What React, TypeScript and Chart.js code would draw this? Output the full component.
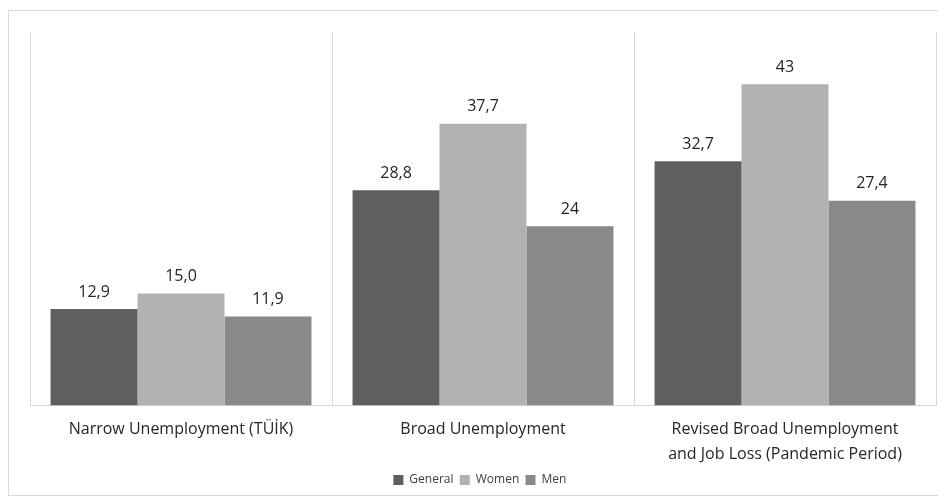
import React, { useEffect, useRef } from "react";
import { Chart, registerables } from "chart.js";

Chart.register(...registerables);

const categories: (string | string[])[] = [
  "Narrow Unemployment (TÜİK)",
  "Broad Unemployment",
  ["Revised Broad Unemployment", "and Job Loss (Pandemic Period)"],
];
const seriesNames = ["General", "Women", "Men"];
const generalValues = [12.9, 28.8, 32.7];
const womenValues = [15.0, 37.7, 43];
const menValues = [11.9, 24, 27.4];
const generalLabels = ["12,9", "28,8", "32,7"];
const womenLabels = ["15,0", "37,7", "43"];
const menLabels = ["11,9", "24", "27,4"];

const FONT = "'Open Sans', 'Noto Sans', sans-serif";

const valueLabelPlugin = {
  id: "valueLabels",
  afterDatasetsDraw(chart: any) {
    const ctx = chart.ctx;
    const allLabels = [generalLabels, womenLabels, menLabels];
    ctx.save();
    ctx.font = `16px ${FONT}`;
    ctx.fillStyle = "#262626";
    ctx.textAlign = "center";
    ctx.textBaseline = "bottom";
    chart.data.datasets.forEach((_ds: any, i: number) => {
      const meta = chart.getDatasetMeta(i);
      meta.data.forEach((bar: any, j: number) => {
        ctx.fillText(allLabels[i][j], bar.x, bar.y - 9);
      });
    });
    ctx.restore();
  },
};

export default function App() {
  const ref = useRef<HTMLCanvasElement>(null);
  useEffect(() => {
    if (!ref.current) return;
    const chart = new Chart(ref.current, {
      type: "bar",
      data: {
        labels: categories,
        datasets: [
          { label: seriesNames[0], data: generalValues, backgroundColor: "#5f5f5f" },
          { label: seriesNames[1], data: womenValues, backgroundColor: "#b2b2b2" },
          { label: seriesNames[2], data: menValues, backgroundColor: "#898989" },
        ],
      },
      options: {
        animation: false,
        responsive: false,
        maintainAspectRatio: false,
        datasets: { bar: { categoryPercentage: 0.864, barPercentage: 1 } },
        layout: { padding: { left: 21, right: 7, top: 21, bottom: 7 } },
        scales: {
          x: {
            offset: true,
            grid: { offset: true, color: "#d9d9d9", drawTicks: false, lineWidth: 1 },
            border: { display: true, color: "#d9d9d9" },
            ticks: {
              color: "#262626",
              font: { family: FONT, size: 16, lineHeight: 1.55 },
              padding: 12,
              maxRotation: 0,
            },
            afterFit(scale: any) {
              scale.height -= 5;
            },
          },
          y: {
            display: false,
            min: 0,
            max: 50,
          },
        },
        plugins: {
          legend: {
            position: "bottom",
            maxHeight: 14,
            labels: {
              boxWidth: 10,
              boxHeight: 10,
              padding: 0,
              color: "#404040",
              font: { family: FONT, size: 12 },
              generateLabels(chart: any) {
                const items = Chart.defaults.plugins.legend.labels.generateLabels(chart);
                items.forEach((it: any) => { it.text = it.text + "  "; });
                return items;
              },
            },
          },
          tooltip: { enabled: false },
        },
      },
      plugins: [valueLabelPlugin],
    });
    return () => chart.destroy();
  }, []);
  return (
    <div
      style={{
        marginTop: 2,
        width: 934,
        height: 484,
        border: "1px solid #d9d9d9",
        background: "#fff",
      }}
    >
      <canvas ref={ref} width={934} height={484} style={{ display: "block" }} />
    </div>
  );
}
